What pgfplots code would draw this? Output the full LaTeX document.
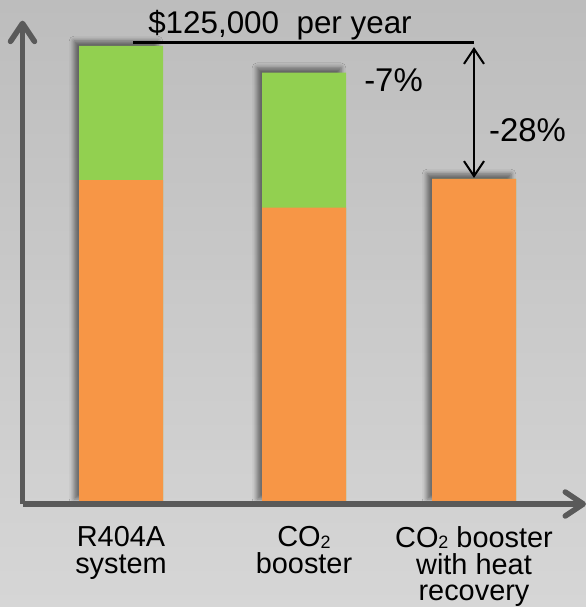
\documentclass[border=0pt]{standalone}
\usepackage{pgfplots}
\pgfplotsset{compat=1.18}
\usepackage{fontspec}
\setmainfont{Liberation Sans}
\usetikzlibrary{arrows.meta,shadows.blur}

\definecolor{barorange}{HTML}{F79646}
\definecolor{bargreen}{HTML}{92D050}
\definecolor{axisgray}{HTML}{5A5A5A}
\definecolor{bgtop}{HTML}{BDBDBD}
\definecolor{bgbottom}{HTML}{D6D6D6}

% CO2 with a subscript that stays clear of the next line
\newcommand{\cotwo}{CO\raisebox{-0.04em}{\fontsize{18}{18}\selectfont 2}}

\begin{document}
\begin{tikzpicture}
    % grey backdrop, the size of the whole picture
    \shade[top color=bgtop, bottom color=bgbottom] (-22.5bp,-103bp) rectangle (563.5bp,504bp);
    \begin{axis}[
            at={(0,0)}, anchor=south west,
            scale only axis,
            width=563.5bp, height=483.3bp,
            ybar, bar shift=0pt,
            bar width=84bp,
            xmin=22.5, xmax=586,
            ymin=0, ymax=131.9,
            axis x line*=bottom,
            axis y line*=left,
            axis line style={line width=5.5bp, draw=axisgray,
                -{Straight Barb[length=18bp,width=24bp,round]}},
            axis on top,
            clip=false,
            ytick=\empty,
            xtick={121,304,474},
            xticklabels={{R404A\\system},
                         {\cotwo\\booster},
                         {\cotwo{} booster\\with heat\\recovery}},
            major tick length=0pt,
            xticklabel style={
                font=\fontsize{29}{26.5}\selectfont,
                align=center, inner sep=0pt, anchor=north, yshift=-22.5bp
            },
        ]
        % total annual cost in thousand $ (green part shows above the orange)
        \addplot[fill=bargreen, draw=none,
            blur shadow={shadow xshift=-5bp, shadow yshift=5bp,
                shadow blur radius=4.8bp, shadow opacity=50}]
            coordinates {(121,125.0) (304,117.7) (474,88.7)};
        % lower (orange) part
        \addplot[fill=barorange, draw=none]
            coordinates {(121,88.4) (304,80.9) (474,88.7)};

        \draw[black, line width=2.4bp] (axis cs:133,125.9) -- (axis cs:474,125.9);
        \draw[black, line width=2bp,
            {Straight Barb[length=15bp,width=20bp]}-{Straight Barb[length=15bp,width=20bp]}]
            (axis cs:474,124.7) -- (axis cs:474,89.0);
        \node[anchor=base, font=\fontsize{31.5}{31.5}\selectfont]
            at (axis cs:280,128.5) {\$125,000~~per year};
        \node[font=\fontsize{33}{33}\selectfont] at (axis cs:393.5,115.7) {-7\%};
        \node[font=\fontsize{33}{33}\selectfont] at (axis cs:527.5,101.9) {-28\%};
    \end{axis}
    \pgfresetboundingbox
    \path (-22.5bp,-103bp) rectangle (563.5bp,504bp);
\end{tikzpicture}
\end{document}
